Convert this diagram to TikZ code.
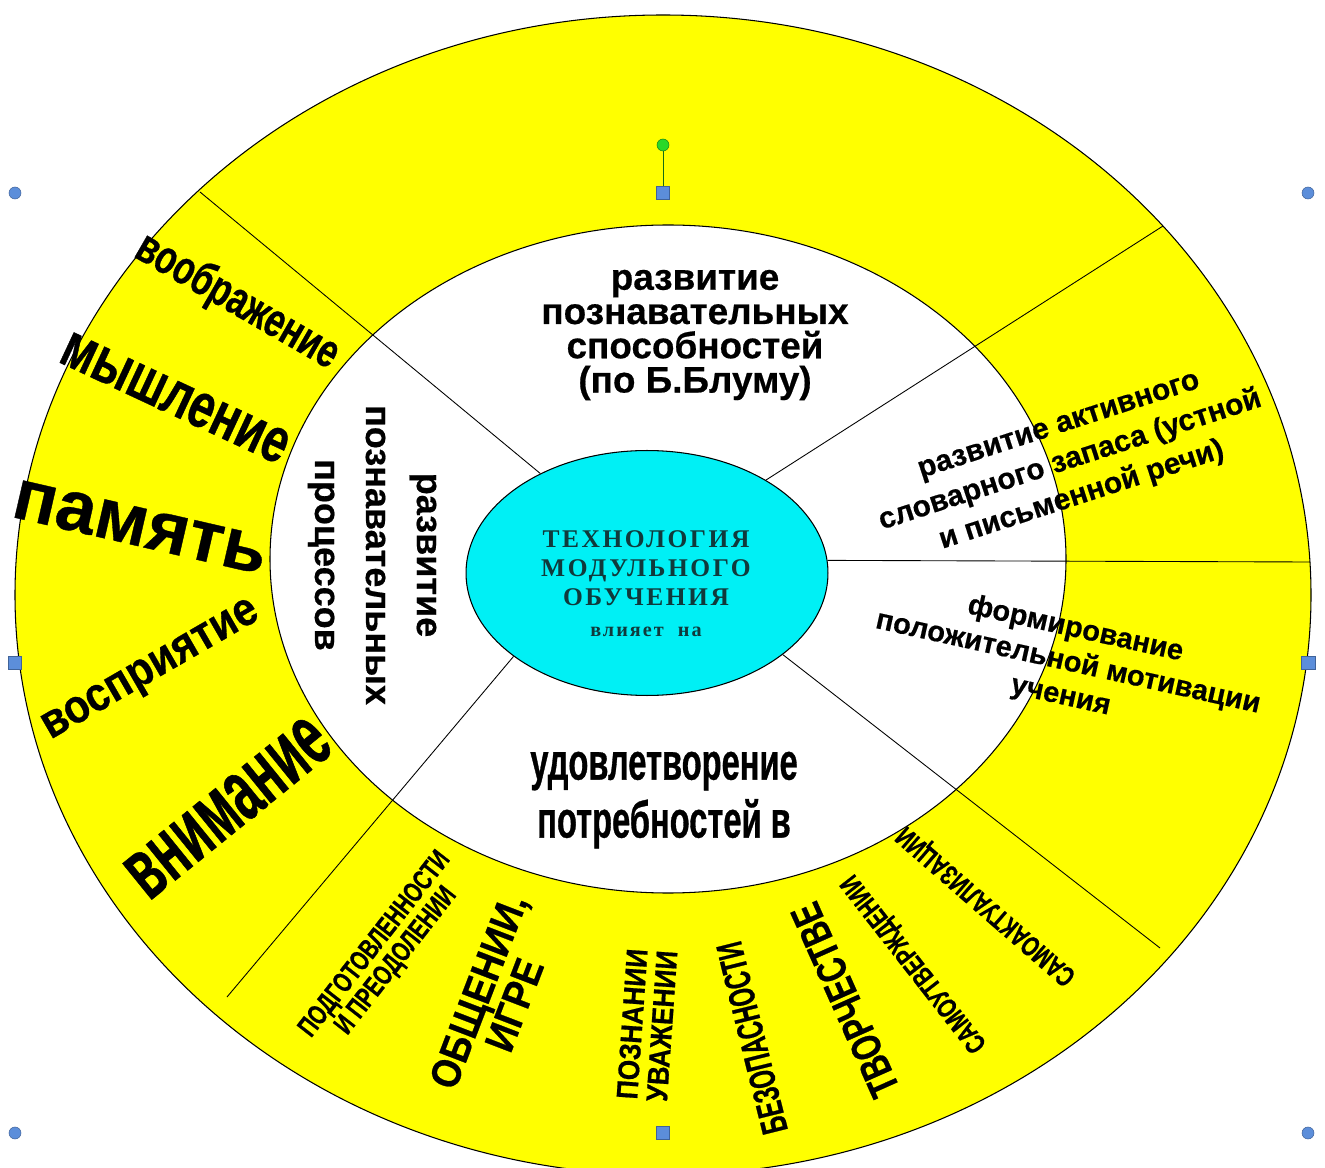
\documentclass[tikz,border=0pt]{standalone}
\usepackage{fontspec}
\setmainfont{Liberation Sans}[BoldFeatures={FakeBold=0.5}]
\newfontfamily\semiface{Liberation Sans}[FakeStretch=0.88,BoldFeatures={FakeBold=0.6}]
\newfontfamily\narrowface{Liberation Sans}[FakeStretch=0.72,BoldFeatures={FakeBold=0.6}]
\newfontfamily\slimface{Liberation Sans}[FakeStretch=0.63,BoldFeatures={FakeBold=0.6}]
\newfontfamily\thinface{Liberation Sans}[FakeStretch=0.56,BoldFeatures={FakeBold=0.6}]
\newfontfamily\coreface{Liberation Serif}[LetterSpace=10]
\usetikzlibrary{shapes.geometric}
\definecolor{ringyellow}{RGB}{255,255,0}
\definecolor{corecyan}{RGB}{0,240,245}
\definecolor{coreink}{RGB}{16,58,60}
\definecolor{handleblue}{RGB}{92,142,218}
\definecolor{handlegreen}{RGB}{40,216,40}
\newcommand{\setsz}[2]{\fontsize{#1}{#2}\selectfont}

\begin{document}
\begin{tikzpicture}[x=0.02cm,y=-0.02cm,
    ring/.style={draw=black,line width=0.6pt},
    spoke/.style={draw=black,line width=0.5pt},
    lab/.style={align=center,inner sep=0pt},
    dot/.style={circle,fill=handleblue,draw=handleblue!70!black,line width=0.3pt,inner sep=0pt,minimum size=0.24cm},
    knob/.style={rectangle,fill=handleblue,draw=handleblue!70!black,line width=0.3pt,inner sep=0pt,minimum size=0.27cm}]
    \useasboundingbox (0,0) rectangle (1325,1168);
    \clip (0,0) rectangle (1325,1168);

    \fill[ringyellow] (663,595) ellipse [x radius=648, y radius=580];
    \draw[ring] (663,595) ellipse [x radius=648, y radius=580];
    \draw[ring,fill=white] (668,559) ellipse [x radius=398, y radius=334];

    \node[ellipse,draw=black,line width=0.6pt,fill=corecyan,minimum width=7.24cm,minimum height=4.9cm,inner sep=0pt] (core) at (647,573) {};
    \node[lab,text=coreink,font=\coreface\bfseries\setsz{14.5}{16.5}] (coretext) at (646,584) {ТЕХНОЛОГИЯ\\МОДУЛЬНОГО\\ОБУЧЕНИЯ\\[1pt]{\setsz{11.5}{12}влияет\ \ на}};

    \coordinate (ul) at (200,192);
    \coordinate (ur) at (1163,226);
    \coordinate (rt) at (1310,562);
    \coordinate (lr) at (1160,948);
    \coordinate (ll) at (227,997);

    \draw[spoke] (core.137) -- (ul);
    \draw[spoke] (core.38) -- (ur);
    \draw[spoke] (core.4) -- (rt);
    \draw[spoke] (core.-31) -- (lr);
    \draw[spoke] (core.-148) -- (ll);

    \node[lab,font=\bfseries\setsz{21}{19.5}] (blum) at (695,335) {развитие\\познавательных\\способностей\\(по Б.Блуму)};
    \node[lab,rotate=-90,font=\bfseries\setsz{20.5}{29}] (proc) at (372,555) {развитие\\познавательных\\процессов};
    \node[lab,rotate=18,font=\bfseries\setsz{17}{21}] (lex) at (1071,463) {развитие активного\\словарного запаса (устной\\и письменной речи)};
    \node[lab,rotate=-12.5,font=\bfseries\setsz{16.5}{19.5}] (motiv) at (1068,663) {формирование\\положительной мотивации\\учения};
    \node[lab,font=\slimface\bfseries\setsz{29.5}{33}] (needs) at (664,800) {удовлетворение\\потребностей в};

    \node[lab,rotate=-30,font=\narrowface\bfseries\setsz{27}{27}] (imag) at (237,302) {воображение};
    \node[lab,rotate=-25,font=\narrowface\bfseries\setsz{36}{36}] (think) at (175,398) {мышление};
    \node[lab,rotate=-13,font=\bfseries\setsz{41}{41}] (mem) at (140,527) {память};
    \node[lab,rotate=30,font=\semiface\bfseries\setsz{27}{27}] (perc) at (152,672) {восприятие};
    \node[lab,rotate=39,font=\thinface\bfseries\setsz{50}{50}] (attn) at (228,808) {внимание};

    \node[lab,rotate=52,font=\narrowface\bfseries\setsz{16}{14}] (prep) at (386,953) {ПОДГОТОВЛЕННОСТИ\\И ПРЕОДОЛЕНИИ};
    \node[lab,rotate=69,font=\semiface\bfseries\setsz{23.5}{22}] (talk) at (496,998) {ОБЩЕНИИ,\\ИГРЕ};
    \node[lab,rotate=86,font=\semiface\bfseries\setsz{17}{17}] (know) at (647,1025) {ПОЗНАНИИ\\УВАЖЕНИИ};
    \node[lab,rotate=104,font=\slimface\bfseries\setsz{21}{21}] (safe) at (752,1038) {БЕЗОПАСНОСТИ};
    \node[lab,rotate=114,font=\narrowface\bfseries\setsz{24}{24}] (art) at (845,1000) {ТВОРЧЕСТВЕ};
    \node[lab,rotate=128,font=\narrowface\bfseries\setsz{16}{16}] (self) at (915,963) {САМОУТВЕРЖДЕНИИ};
    \node[lab,rotate=139,font=\narrowface\bfseries\setsz{16}{16}] (actu) at (987,905) {САМОАКТУАЛИЗАЦИИ};

    \node[dot] (nw) at (15,193) {};
    \node[dot] (ne) at (1308,193) {};
    \node[dot] (sw) at (15,1133) {};
    \node[dot] (se) at (1308,1133) {};
    \node[knob] (w) at (15,663) {};
    \node[knob] (e) at (1308,663) {};
    \node[knob] (n) at (663,193) {};
    \node[knob] (s) at (663,1133) {};
    \node[dot,fill=handlegreen,draw=handlegreen!60!black] (turn) at (663,145) {};
    \draw[handlegreen!50!black,line width=0.5pt] (turn) -- (n);
\end{tikzpicture}
\end{document}
